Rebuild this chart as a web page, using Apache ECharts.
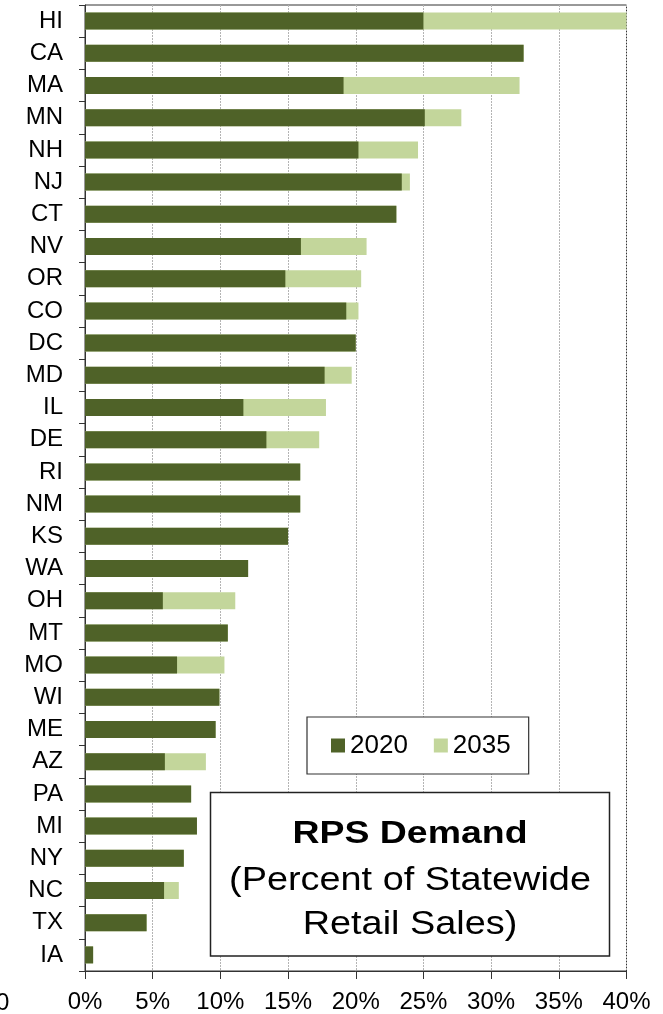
<!DOCTYPE html>
<html>
<head>
<meta charset="utf-8">
<script src="https://cdn.jsdelivr.net/npm/echarts@6/dist/echarts.min.js"></script>
<style>
html,body{margin:0;padding:0;background:#fff;}
#chart{width:663px;height:1014px;}
</style>
</head>
<body>
<div id="chart"></div>
<script>
const states = ['HI','CA','MA','MN','NH','NJ','CT','NV','OR','CO','DC','MD','IL','DE','RI','NM','KS','WA','OH','MT','MO','WI','ME','AZ','PA','MI','NY','NC','TX','IA'];
const demand2020 = [25.0,32.4,19.1,25.1,20.2,23.4,23.0,15.95,14.8,19.3,20.0,17.7,11.7,13.4,15.9,15.9,15.0,12.05,5.75,10.55,6.8,9.93,9.65,5.9,7.84,8.27,7.3,5.84,4.55,0.6];
const demand2035 = [40.0,32.4,32.1,27.8,24.6,24.0,23.0,20.8,20.4,20.2,20.0,19.7,17.8,17.3,15.9,15.9,15.0,12.05,11.1,10.55,10.3,9.93,9.65,8.93,7.84,8.27,7.3,6.93,4.55,0.6];
const xTicks = [0,5,10,15,20,25,30,35,40];
const seriesNames = ['2020','2035'];
const titleLines = ['RPS Demand','(Percent of Statewide','Retail Sales)'];

const FONT = "'Liberation Sans', Arial, Helvetica, sans-serif";
const chart = echarts.init(document.getElementById('chart'), null, {width:663, height:1014});

chart.setOption({
  animation: false,
  backgroundColor: '#fff',
  grid: {left: 85, top: 5, width: 541.5, height: 966, show: true, borderColor: '#333', borderWidth: 1, backgroundColor: 'transparent'},
  legend: {
    data: seriesNames,
    left: 307, top: 717,
    orient: 'horizontal',
    icon: 'rect', itemWidth: 14, itemHeight: 14, itemGap: 26,
    padding: [15.5, 18, 15.5, 24],
    borderColor: '#333', borderWidth: 1.2, backgroundColor: '#fff',
    textStyle: {fontFamily: FONT, fontSize: 26, color: '#000'},
    z: 20
  },
  xAxis: {
    type: 'value', min: xTicks[0], max: xTicks[xTicks.length-1], interval: xTicks[1]-xTicks[0],
    axisLine: {show: true, lineStyle: {color: '#333', width: 1}},
    axisTick: {show: true, length: 8, lineStyle: {color: '#333'}},
    axisLabel: {formatter: '{value}%', fontFamily: FONT, fontSize: 24, color: '#000', margin: 19},
    splitLine: {show: true, lineStyle: {color: '#b4b4b4', width: 1, type: [2, 1]}}
  },
  yAxis: {
    type: 'category', data: states, inverse: true,
    axisLine: {show: true, lineStyle: {color: '#333', width: 1}},
    axisTick: {show: true, length: 6, interval: 0, lineStyle: {color: '#333'}},
    axisLabel: {fontFamily: FONT, fontSize: 24, color: '#000', margin: 22, interval: 0},
    splitLine: {show: false}
  },
  series: [
    {name: seriesNames[0], type: 'bar', data: demand2020, barWidth: 17, barGap: '-100%', z: 3,
     itemStyle: {color: '#4F6228'}},
    {name: seriesNames[1], type: 'bar', data: demand2035, barWidth: 17, barGap: '-100%', z: 2,
     itemStyle: {color: '#C3D69B'}}
  ],
  graphic: [
    {type: 'rect', z: 50, shape: {x: 210.5, y: 792.5, width: 399, height: 163.5},
     style: {fill: '#fff', stroke: '#222', lineWidth: 1.5}},
    {type: 'text', z: 51, x: 410, y: 834, scaleX: 1.17,
     style: {text: titleLines[0], font: "bold 32px " + FONT, fill: '#000', textAlign: 'center', textVerticalAlign: 'middle', align: 'center', verticalAlign: 'middle'}},
    {type: 'text', z: 51, x: 410, y: 881, scaleX: 1.13,
     style: {text: titleLines[1], font: "33.5px " + FONT, fill: '#000', textAlign: 'center', textVerticalAlign: 'middle', align: 'center', verticalAlign: 'middle'}},
    {type: 'text', z: 51, x: 410, y: 925, scaleX: 1.13,
     style: {text: titleLines[2], font: "33.5px " + FONT, fill: '#000', textAlign: 'center', textVerticalAlign: 'middle', align: 'center', verticalAlign: 'middle'}},
    {type: 'text', z: 51, x: -4, y: 1003,
     style: {text: '0', font: "24px " + FONT, fill: '#000', textAlign: 'left', textVerticalAlign: 'middle', align: 'left', verticalAlign: 'middle'}}
  ]
});
</script>
</body>
</html>
